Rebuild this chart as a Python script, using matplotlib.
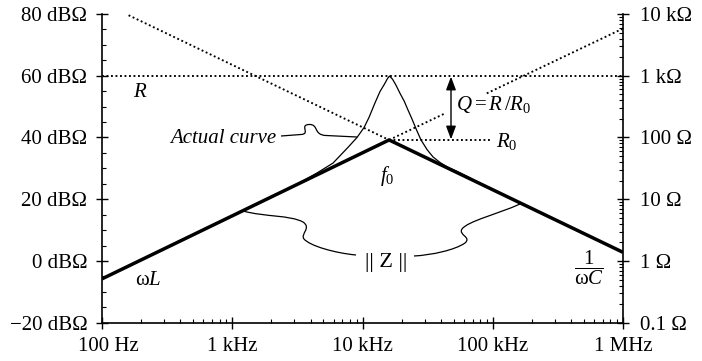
import numpy as np
import matplotlib
matplotlib.use('Agg')
import matplotlib.pyplot as plt
from matplotlib.path import Path
from matplotlib.patches import PathPatch
from matplotlib.transforms import ScaledTranslation

plt.rcParams['font.family'] = ['Liberation Serif', 'DejaVu Serif']
plt.rcParams['mathtext.fontset'] = 'custom'
plt.rcParams['mathtext.rm'] = 'Liberation Serif'
plt.rcParams['mathtext.it'] = 'Liberation Serif:italic'
plt.rcParams['mathtext.bf'] = 'Liberation Serif:bold'

# ---------------- data ----------------
x_ticks_hz = [100, 1e3, 1e4, 1e5, 1e6]
x_tick_labels = ['100 Hz', '1 kHz', '10 kHz', '100 kHz', '1 MHz']
y_ticks_db = [-20, 0, 20, 40, 60, 80]
y_tick_labels = ['\u221220 dB\u03a9', '0 dB\u03a9', '20 dB\u03a9', '40 dB\u03a9',
                 '60 dB\u03a9', '80 dB\u03a9']
ohm_ticks = [0.1, 1, 10, 100, 1000, 10000]
ohm_labels = ['0.1 \u03a9', '1 \u03a9', '10 \u03a9', '100 \u03a9', '1 k\u03a9', '10 k\u03a9']

f0 = 16000
R_db = 60
R0_db = 39.2

# thick asymptotes: omega L rising to f0, then 1/(omega C) falling
asym_f = [100, 16000, 1e6]
asym_db = [-5.8, 39.2, 2.8]

# dotted continuations
invC_ext_f = [160, 16000]
invC_ext_db = [79.6, 39.2]
wL_ext1_f = [16000, 42000]
wL_ext1_db = [39.2, 47.6]
wL_ext2_f = [90000, 1e6]
wL_ext2_db = [54.3, 75.3]
R_line_f = [100, 1e6]
R0_line_f = [16000, 98000]

# actual curve
actual_f = [2776, 3313, 4474, 5935, 7740, 9073, 10270, 11220, 12470, 13630,
            14750, 15560, 16120, 16990, 17990, 19410, 20940, 22350, 23860,
            26080, 28130, 31280, 34780, 39360, 45330, 53170, 66900]
actual_db = [23.8, 25.4, 28.5, 31.7, 36.8, 40.0, 43.2, 46.5, 51.2, 54.9,
             57.3, 59.1, 59.9, 58.9, 57.1, 54.3, 51.7, 48.9, 46.2,
             42.3, 39.2, 36.1, 33.7, 31.9, 30.3, 29.0, 26.9]

fQ = 47800

# ---------------- figure ----------------
W, H = 702, 361
fig = plt.figure(figsize=(W / 100, H / 100), dpi=100)
L, Rr, T, B = 102, 623, 14, 322.7
ax = fig.add_axes([L / W, 1 - B / H, (Rr - L) / W, (B - T) / H])

def px(x, y):
    return (x / W, 1 - y / H)

dotted = dict(color='black', lw=1.35, linestyle=(0, (1.0, 1.4)))

ax.plot(R_line_f, [R_db, R_db], **dotted)
ax.plot(invC_ext_f, invC_ext_db, **dotted)
ax.plot(wL_ext1_f, wL_ext1_db, **dotted)
ax.plot(wL_ext2_f, wL_ext2_db, **dotted)
ax.plot(R0_line_f, [R0_db, R0_db], **dotted)
ax.plot(actual_f, actual_db, color='black', lw=0.9, solid_joinstyle='round')
ax.plot(asym_f, asym_db, color='black', lw=2.5, solid_capstyle='butt')

# Q arrow
ax.annotate('', xy=(fQ, R_db - 0.3), xytext=(fQ, R0_db + 0.2),
            arrowprops=dict(arrowstyle='<|-|>,head_length=0.8,head_width=0.3',
                            color='black', lw=1.0, shrinkA=0, shrinkB=0))

ax.set_xscale('log')
ax.set_xlim(100, 1e6)
ax.set_ylim(-20, 80)
ax.set_xticks(x_ticks_hz)
ax.set_xticklabels(x_tick_labels)
ax.set_yticks(y_ticks_db)
ax.set_yticklabels(y_tick_labels)
ax.set_yticks(np.arange(-20, 81, 5), minor=True)
ax.tick_params(which='major', direction='inout', length=8, width=1.0,
               labelsize=15, top=False, right=False)
ax.tick_params(axis='y', which='major', pad=6.5)
ax.tick_params(axis='x', which='major', pad=6)
ax.tick_params(which='minor', direction='in', length=3, width=0.8, top=False, right=False)
ax.spines['top'].set_visible(False)
ax.spines['right'].set_visible(False)
for s in ['left', 'bottom']:
    ax.spines[s].set_linewidth(1.2)

ax2 = ax.twinx()
ax2.set_yscale('log')
ax2.set_ylim(0.1, 1e4)
ax2.set_yticks(ohm_ticks)
ax2.set_yticklabels(ohm_labels)
ax2.tick_params(which='major', direction='inout', length=8, width=1.0,
                labelsize=15, pad=8)
ax2.tick_params(which='minor', direction='in', length=3, width=0.8)
ax2.spines['top'].set_visible(False)
ax2.spines['left'].set_visible(False)
ax2.spines['bottom'].set_visible(False)
ax2.spines['right'].set_linewidth(1.2)

# shift first x label a bit right
lbl = ax.get_xticklabels()[0]
lbl.set_transform(lbl.get_transform() + ScaledTranslation(6 / 100, 0, fig.dpi_scale_trans))

# ---------------- labels ----------------
tf = fig.transFigure
fs = 15
fig.text(*px(140, 97), '$R$', fontsize=fs, ha='center', va='baseline', transform=tf)
fig.text(*px(276, 143), 'Actual curve', fontsize=fs, style='italic',
         ha='right', va='baseline', transform=tf)
fig.text(*px(387, 181), '$f_0$', fontsize=fs, ha='center', va='baseline', transform=tf)
fig.text(*px(148, 285), '\u03c9$L$', fontsize=fs, ha='center', va='baseline', transform=tf)
fig.text(*px(589, 268), r'$\dfrac{1}{\mathrm{\omega} C}$', fontsize=fs,
         ha='center', va='center', transform=tf)
fig.text(*px(456, 110), r'$Q = R\,/R_0$', fontsize=fs, ha='left', va='baseline', transform=tf)
fig.text(*px(496, 147), r'$R_0$', fontsize=fs, ha='left', va='baseline', transform=tf)
fig.text(*px(386, 267), '|| Z ||', fontsize=16, ha='center', va='baseline', transform=tf)

# ---------------- squiggle pointers ----------------
def bez(points, codes):
    verts = [px(x, y) for x, y in points]
    p = PathPatch(Path(verts, codes), fill=False, lw=0.9, color='black', transform=tf)
    fig.add_artist(p)

M, Ln, C = Path.MOVETO, Path.LINETO, Path.CURVE4
bez([(281, 136), (301, 134.5),
     (311, 134), (299, 125), (309, 124.5),
     (319, 124), (313, 135), (326, 135.5),
     (357, 137)],
    [M, Ln, C, C, C, C, C, C, Ln])
bez([(243, 211), (265, 217), (290, 215), (303, 222),
     (312, 228), (300, 234), (304, 239),
     (310, 246), (335, 253), (356, 255)],
    [M, C, C, C, C, C, C, C, C, C])
bez([(414, 256), (432, 255), (455, 250), (465, 243),
     (472, 237), (458, 235), (462, 229),
     (468, 221), (498, 214), (520, 204)],
    [M, C, C, C, C, C, C, C, C, C])

fig.savefig('out.png', dpi=100)
